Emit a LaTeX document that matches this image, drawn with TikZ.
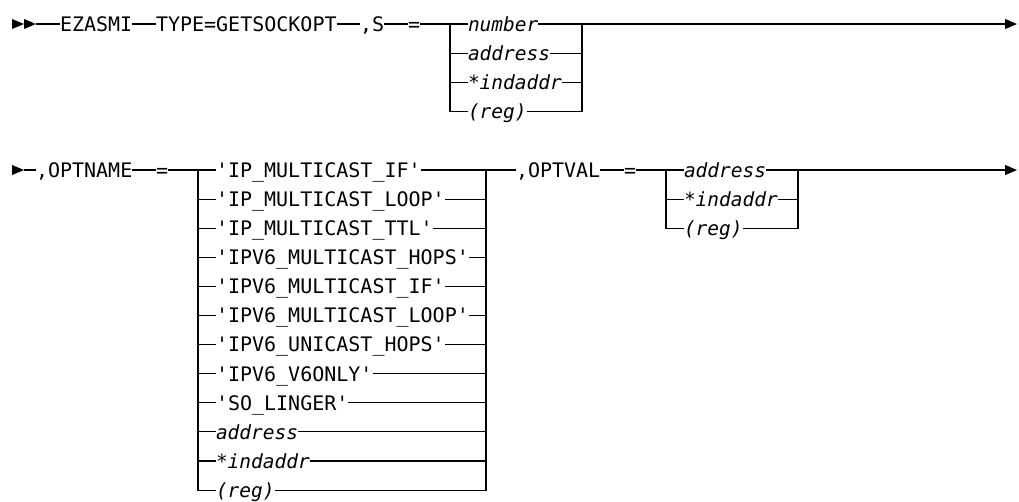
\documentclass[tikz,border=0pt]{standalone}
\usepackage{fontspec}
\setmonofont{DejaVu Sans Mono}
\usetikzlibrary{arrows.meta}
\tikzset{
  lbl/.style={anchor=west, inner sep=0pt, outer sep=0pt,
    font=\ttfamily\fontsize{20}{20}\selectfont, text height=14.6pt, text depth=0pt},
  var/.style={lbl, font=\ttfamily\itshape\fontsize{19.5}{20}\selectfont, text height=14.2pt},
  rail/.style={line width=1.1pt, line join=miter},
  endarrow/.style={-{Triangle[length=12pt,width=10pt]}},
  starttip/.style={fill=black}
}
\begin{document}
\begin{tikzpicture}[x=1pt,y=-1pt]
\useasboundingbox (0,0) rectangle (1019,501);
% ---------- row 1 ----------
\fill[starttip] (12,19) -- (24,24) -- (12,29) -- cycle;
\fill[starttip] (24,19) -- (36,24) -- (24,29) -- cycle;
\coordinate (s1) at (36,24);
\node[lbl] (ez) at (60,24) {EZASMI};
\node[lbl] (type) at (156,24) {TYPE=GETSOCKOPT};
\node[lbl] (sk) at (360,24) {,S};
\node[lbl] (eqa) at (408,24) {=};
\coordinate (bal) at (450,24);
\coordinate (bar) at (582,24);
\node[var] (a1) at (468,24) {number};
\node[var] (a2) at (468,53.1) {address};
\node[var] (a3) at (468,82.2) {*indaddr};
\node[var] (a4) at (468,111.3) {(reg)};
\coordinate (e1) at (1017,24);
\draw[rail] (s1) -- (ez.west);
\draw[rail] (ez.east) -- (type.west);
\draw[rail] (type.east) -- (sk.west);
\draw[rail] (sk.east) -- (eqa.west);
\draw[rail] (eqa.east) -- (a1.west);
\draw[rail,endarrow] (a1.east) -- (e1);
\draw[rail] (bal) |- (a4.west);
\draw[rail] (a4.east) -| (bar);
\foreach \n in {a2,a3}{
  \draw[rail] (bal |- \n.west) -- (\n.west);
  \draw[rail] (\n.east) -- (bar |- \n.east);
}
% ---------- row 2 ----------
\fill[starttip] (12,165) -- (24,170) -- (12,175) -- cycle;
\coordinate (s2) at (24,170);
\node[lbl] (optname) at (36,170) {,OPTNAME};
\node[lbl] (eqb) at (156,170) {=};
\coordinate (bbl) at (198,170);
\coordinate (bbr) at (486,170);
\node[lbl] (b1) at (216,170) {'IP\_MULTICAST\_IF'};
\node[lbl] (b2) at (216,199.1) {'IP\_MULTICAST\_LOOP'};
\node[lbl] (b3) at (216,228.2) {'IP\_MULTICAST\_TTL'};
\node[lbl] (b4) at (216,257.3) {'IPV6\_MULTICAST\_HOPS'};
\node[lbl] (b5) at (216,286.4) {'IPV6\_MULTICAST\_IF'};
\node[lbl] (b6) at (216,315.5) {'IPV6\_MULTICAST\_LOOP'};
\node[lbl] (b7) at (216,344.6) {'IPV6\_UNICAST\_HOPS'};
\node[lbl] (b8) at (216,373.7) {'IPV6\_V6ONLY'};
\node[lbl] (b9) at (216,402.8) {'SO\_LINGER'};
\node[var] (b10) at (216,431.9) {address};
\node[var] (b11) at (216,461) {*indaddr};
\node[var] (b12) at (216,490.1) {(reg)};
\node[lbl] (optval) at (516,170) {,OPTVAL};
\node[lbl] (eqc) at (624,170) {=};
\coordinate (bcl) at (666,170);
\coordinate (bcr) at (798,170);
\node[var] (c1) at (684,170) {address};
\node[var] (c2) at (684,199.1) {*indaddr};
\node[var] (c3) at (684,228.2) {(reg)};
\coordinate (e2) at (1017,170);
\draw[rail] (s2) -- (optname.west);
\draw[rail] (optname.east) -- (eqb.west);
\draw[rail] (eqb.east) -- (b1.west);
\draw[rail] (b1.east) -- (optval.west);
\draw[rail] (bbl) |- (b12.west);
\draw[rail] (b12.east) -| (bbr);
\foreach \n in {b2,b3,b4,b5,b6,b7,b8,b9,b10,b11}{
  \draw[rail] (bbl |- \n.west) -- (\n.west);
  \draw[rail] (\n.east) -- (bbr |- \n.east);
}
\draw[rail] (optval.east) -- (eqc.west);
\draw[rail] (eqc.east) -- (c1.west);
\draw[rail,endarrow] (c1.east) -- (e2);
\draw[rail] (bcl) |- (c3.west);
\draw[rail] (c3.east) -| (bcr);
\draw[rail] (bcl |- c2.west) -- (c2.west);
\draw[rail] (c2.east) -- (bcr |- c2.east);
\end{tikzpicture}
\end{document}
